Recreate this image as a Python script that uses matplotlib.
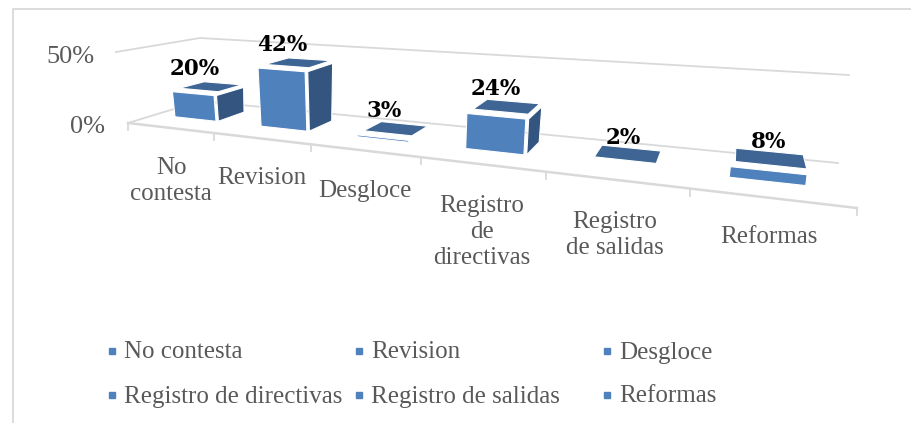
import numpy as np
import matplotlib
matplotlib.use("Agg")
import matplotlib.pyplot as plt
from matplotlib.patches import Polygon

categories = ["No contesta", "Revision", "Desgloce", "Registro de directivas", "Registro de salidas", "Reformas"]
tick_labels = ["No\ncontesta", "Revision", "Desgloce", "Registro\nde\ndirectivas", "Registro\nde salidas", "Reformas"]
values = [0.20, 0.42, 0.03, 0.24, 0.02, 0.08]
value_labels = ["20%", "42%", "3%", "24%", "2%", "8%"]
axis_values = [0.0, 0.5]
axis_labels = ["0%", "50%"]

# perspective of the 3D box, in pixels
FLOOR = [(128, 123), (857, 208), (838, 163), (200, 101)]
# pixel offset of the 50% level above each floor corner
RISE = [(-12, -71), (12, -88), (11, -88), (0, -63)]
ZTOP = 0.5
N = len(categories)

BLUE, DARK, MID = "#4F81BD", "#335580", "#3E6594"
GRID, TXT = "#D9D9D9", "#595959"
SERIF = "Liberation Serif"


def homography(src, dst):
    A, b = [], []
    for (x, y), (X, Y) in zip(src, dst):
        A.append([x, y, 1, 0, 0, 0, -x * X, -y * X]); b.append(X)
        A.append([0, 0, 0, x, y, 1, -x * Y, -y * Y]); b.append(Y)
    return np.append(np.linalg.solve(np.array(A, float), np.array(b, float)), 1).reshape(3, 3)


unit = [(0, 0), (N, 0), (N, 1), (0, 1)]
H0 = homography(unit, FLOOR)


def proj(u, d, z=0.0):
    p = H0 @ np.array([u, d, 1.0])
    p = p[:2] / p[2]
    s = (u / N)
    r0, r1, r2, r3 = [np.array(r, float) for r in RISE]
    rise = (1 - d) * ((1 - s) * r0 + s * r1) + d * ((1 - s) * r3 + s * r2)
    return tuple(p + rise * z / ZTOP)


fig = plt.figure(figsize=(9.12, 4.23), dpi=100)
ax = fig.add_axes([0, 0, 1, 1])
ax.set_xlim(0, 912)
ax.set_ylim(423, 0)
ax.axis("off")

# chart frame
ax.plot([13, 13, 912], [423, 9, 9], color="#D9D9D9", lw=1.3, zorder=0)

# wall grid lines
for v in axis_values:
    pts = [proj(0, 0, v), proj(0, 1, v), proj(N, 1, v)]
    ax.plot(*zip(*pts), color=GRID, lw=1.3, zorder=1)

# front axis and ticks
ax.plot(*zip(proj(0, 0), proj(N, 0)), color=GRID, lw=1.8, zorder=1)
for i in range(N + 1):
    x, y = proj(i, 0)
    ax.plot([x, x], [y, y + 7], color=GRID, lw=1.3, zorder=1)

D0, D1, W = 0.35, 0.75, 0.49
for i, v in enumerate(values):
    u0, u1 = i + 0.49 - W / 2, i + 0.49 + W / 2
    kw = dict(edgecolor="white", lw=0.8, joinstyle="miter")
    gap = 0.018
    ztop = max(v - gap, 0)
    # right side
    side = [proj(u1 + .02, D0 + 0.01, 0), proj(u1 + .02, D1, 0), proj(u1 + .02, D1, ztop), proj(u1 + .02, D0 + 0.01, ztop)]
    if side[1][0] > side[0][0] + 8 and v > 0.1:
        ax.add_patch(Polygon(side, facecolor=DARK, zorder=3, **kw))
    # top
    top = [proj(u0 + .03, D0 + .06, v), proj(u1, D0 + .06, v), proj(u1, D1, v), proj(u0 + .03, D1, v)]
    ax.add_patch(Polygon(top, facecolor=MID, zorder=3, **kw))
    # front
    front = [proj(u0, D0, 0), proj(u1, D0, 0), proj(u1, D0, ztop), proj(u0, D0, ztop)]
    ax.add_patch(Polygon(front, facecolor=BLUE, zorder=4, **kw))

# axis labels
ax.text(95, 57, axis_labels[1], ha="right", va="center", color=TXT, family=SERIF, fontsize=19)
ax.text(105, 127, axis_labels[0], ha="right", va="center", color=TXT, family=SERIF, fontsize=19)

# category labels
label_x = [171, 262, 365, 482, 615, 769]
label_y = [181, 178, 191, 232, 235, 237]
for x, y, t in zip(label_x, label_y, tick_labels):
    ax.text(x, y, t, ha="center", va="center", color=TXT, family=SERIF, fontsize=18, linespacing=1.22)

# value labels
data_x = [195, 282, 384, 496, 623, 769]
data_y = [69, 45, 111, 89, 138, 142]
for x, y, t in zip(data_x, data_y, value_labels):
    ax.text(x, y, t, ha="center", va="center", color="black", family="DejaVu Serif", fontweight="bold", fontsize=15.5)

# legend
leg_x = [112, 359, 607]
leg_y = [351, 395]
for i, name in enumerate(categories):
    x, y = leg_x[i % 3], leg_y[i // 3]
    ax.plot([x], [y], marker="s", ms=5, color=BLUE, ls="none")
    ax.text(x + 12, y + 1.5, name, va="center", ha="left", color=TXT, family=SERIF, fontsize=18)

fig.savefig("out.png", dpi=100)
